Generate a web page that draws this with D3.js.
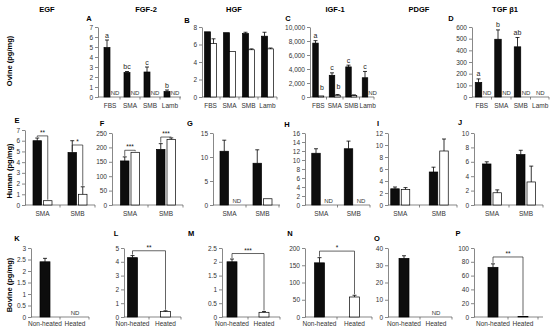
<!DOCTYPE html>
<html>
<head>
<meta charset="utf-8">
<script src="https://cdn.jsdelivr.net/npm/d3@7"></script>
<style>
  body { margin: 0; background: #fff; }
  svg { display: block; font-family: "Liberation Sans", Arial, sans-serif; }
</style>
</head>
<body>
<div id="chart"></div>
<script>
// ---- data ----
const factors = ["EGF", "FGF-2", "HGF", "IGF-1", "PDGF", "TGF \u03b21"];
const species = ["Ovine (pg/mg)", "Human (pg/mg)", "Bovine (pg/mg)"];

const ovineCats = ["FBS", "SMA", "SMB", "Lamb"];
const humanCats = ["SMA", "SMB"];
const bovineCats = ["Non-heated", "Heated"];

// ovine (black = non-heated, white = heated; null = ND)
const fgf2Ovine = [4.95, 2.45, 2.5, 0.55];
const fgf2OvineErr = [0.75, 0.1, 0.5, 0.15];
const fgf2OvineHeat = [null, null, null, null];
const fgf2OvineHeatErr = [0, 0, 0, 0];
const fgf2OvineSig = ["a", "bc", "c", "b"];

const hgfOvine = [7.45, 7.35, 7.25, 6.95];
const hgfOvineErr = [0.05, 0.05, 0.15, 0.45];
const hgfOvineHeat = [6.1, 5.2, 5.4, 5.5];
const hgfOvineHeatErr = [0.55, 0.05, 0.1, 0.1];

const igf1Ovine = [7700, 3100, 4300, 2750];
const igf1OvineErr = [350, 350, 250, 900];
const igf1OvineHeat = [150, 250, 200, null];
const igf1OvineHeatErr = [50, 100, 100, 0];
const igf1OvineSig = ["a", "c", "c", "c"];
const igf1OvineHeatSig = ["b", "b", "", ""];

const tgfOvine = [125, 495, 430, null];
const tgfOvineErr = [30, 80, 80, 0];
const tgfOvineHeat = [null, null, null, null];
const tgfOvineHeatErr = [0, 0, 0, 0];
const tgfOvineSig = ["a", "b", "ab", ""];

// human
const egfHuman = [6.0, 4.9];
const egfHumanErr = [0.25, 1.1];
const egfHumanHeat = [0.4, 1.0];
const egfHumanHeatErr = [0, 0.7];
const egfHumanStars = [{ at: 6.45, label: "**" }, { at: 5.6, label: "*" }];

const fgf2Human = [153, 193];
const fgf2HumanErr = [14, 20];
const fgf2HumanHeat = [183, 228];
const fgf2HumanHeatErr = [0, 5];
const fgf2HumanStars = [{ at: 190, label: "***" }, { at: 236, label: "***" }];

const hgfHuman = [11.2, 8.7];
const hgfHumanErr = [2.3, 2.8];
const hgfHumanHeat = [null, 1.3];
const hgfHumanHeatErr = [0, 0];

const igf1Human = [11.5, 12.5];
const igf1HumanErr = [1.0, 1.7];
const igf1HumanHeat = [null, null];
const igf1HumanHeatErr = [0, 0];

const pdgfHuman = [2.7, 5.5];
const pdgfHumanErr = [0.3, 0.8];
const pdgfHumanHeat = [2.6, 9.0];
const pdgfHumanHeatErr = [0.3, 2.0];

const tgfHuman = [5.7, 7.0];
const tgfHumanErr = [0.3, 0.6];
const tgfHumanHeat = [1.7, 3.2];
const tgfHumanHeatErr = [0.4, 2.2];

// bovine: [non-heated, heated]
const egfBovine = [2.4, null];
const egfBovineErr = [0.15, 0];
const fgf2Bovine = [4.3, 0.4];
const fgf2BovineErr = [0.15, 0.05];
const hgfBovine = [2.0, 0.17];
const hgfBovineErr = [0.1, 0.03];
const igf1Bovine = [157, 58];
const igf1BovineErr = [15, 5];
const pdgfBovine = [34, null];
const pdgfBovineErr = [1.5, 0];
const tgfBovine = [72, 0.8];
const tgfBovineErr = [5, 0];
const fgf2BovineStar = { at: 4.8, label: "**" };
const hgfBovineStar = { at: 2.3, label: "***" };
const igf1BovineStar = { at: 191, label: "*" };
const tgfBovineStar = { at: 87, label: "**" };

// ---- layout ----
const W = 550, H = 330;
const rows = [
  { top: 27, bottom: 97, labelY: 108, labelX: 12, labelMid: 61 },
  { top: 133, bottom: 205, labelY: 216, labelX: 12, labelMid: 171 },
  { top: 248, bottom: 317, labelY: 326, labelX: 12, labelMid: 285 }
];
const headerX = [47, 146, 234, 335, 419, 505];

const panels = [
  { id: "A", row: 0, lx: 89, ly: 21, ax: 98, ex: 181, band: [100, 180], max: 7, step: 1, bw: 6, gap: 0,
    cats: ovineCats, a: fgf2Ovine, ae: fgf2OvineErr, b: fgf2OvineHeat, be: fgf2OvineHeatErr, sigA: fgf2OvineSig },
  { id: "B", row: 0, lx: 187, ly: 23, ax: 202, ex: 277, band: [201, 277], max: 8, step: 2, bw: 6, gap: 0,
    cats: ovineCats, a: hgfOvine, ae: hgfOvineErr, b: hgfOvineHeat, be: hgfOvineHeatErr },
  { id: "C", row: 0, lx: 288, ly: 21, ax: 310, ex: 374, band: [310, 376], max: 10000, step: 2000, bw: 5.5, gap: 0, fmt: ",",
    cats: ovineCats, a: igf1Ovine, ae: igf1OvineErr, b: igf1OvineHeat, be: igf1OvineHeatErr, sigA: igf1OvineSig, sigB: igf1OvineHeatSig },
  { id: "D", row: 0, lx: 451, ly: 21, ax: 472, ex: 549, band: [472, 550], max: 600, step: 100, bw: 6.5, gap: 0,
    cats: ovineCats, a: tgfOvine, ae: tgfOvineErr, b: tgfOvineHeat, be: tgfOvineHeatErr, sigA: tgfOvineSig },

  { id: "E", row: 1, top: 130, lx: 17, ly: 123, ax: 25, ex: 95, band: [25, 95], max: 7, step: 1, bw: 8.5, gap: 2,
    cats: humanCats, a: egfHuman, ae: egfHumanErr, b: egfHumanHeat, be: egfHumanHeatErr, stars: egfHumanStars },
  { id: "F", row: 1, lx: 102, ly: 126, ax: 112, ex: 183, band: [112, 184], max: 250, step: 50, bw: 8.5, gap: 2,
    cats: humanCats, a: fgf2Human, ae: fgf2HumanErr, b: fgf2HumanHeat, be: fgf2HumanHeatErr, stars: fgf2HumanStars },
  { id: "G", row: 1, lx: 190, ly: 126, ax: 213, ex: 280, band: [213, 279], max: 15, step: 5, bw: 8.5, gap: 2,
    cats: humanCats, a: hgfHuman, ae: hgfHumanErr, b: hgfHumanHeat, be: hgfHumanHeatErr },
  { id: "H", row: 1, lx: 287, ly: 127, ax: 305, ex: 370, band: [305, 370], max: 16, step: 2, bw: 8.5, gap: 2,
    cats: humanCats, a: igf1Human, ae: igf1HumanErr, b: igf1HumanHeat, be: igf1HumanHeatErr },
  { id: "I", row: 1, lx: 378, ly: 126, ax: 388, ex: 457, band: [381, 458], max: 12, step: 2, bw: 8.5, gap: 2,
    cats: humanCats, a: pdgfHuman, ae: pdgfHumanErr, b: pdgfHumanHeat, be: pdgfHumanHeatErr },
  { id: "J", row: 1, lx: 460, ly: 125, ax: 474, ex: 543, band: [475, 543], max: 10, step: 2, bw: 8.5, gap: 2,
    cats: humanCats, a: tgfHuman, ae: tgfHumanErr, b: tgfHumanHeat, be: tgfHumanHeatErr },

  { id: "K", row: 2, single: true, lx: 17, ly: 241, ax: 31, ex: 89, band: [30, 90], max: 3, step: 0.5, bw: 10,
    cats: bovineCats, v: egfBovine, ve: egfBovineErr },
  { id: "L", row: 2, single: true, lx: 116, ly: 236, ax: 124, ex: 181, band: [116, 182], max: 5, step: 1, bw: 10,
    cats: bovineCats, v: fgf2Bovine, ve: fgf2BovineErr, star: fgf2BovineStar },
  { id: "M", row: 2, single: true, lx: 191, ly: 236, ax: 222, ex: 280, band: [216, 280], max: 2.5, step: 0.5, bw: 10,
    cats: bovineCats, v: hgfBovine, ve: hgfBovineErr, star: hgfBovineStar },
  { id: "N", row: 2, single: true, lx: 290, ly: 236, ax: 305, ex: 372, band: [302, 372], max: 200, step: 50, bw: 10,
    cats: bovineCats, v: igf1Bovine, ve: igf1BovineErr, star: igf1BovineStar },
  { id: "O", row: 2, single: true, lx: 377, ly: 241, ax: 388, ex: 452, band: [388, 452], max: 40, step: 10, bw: 10,
    cats: bovineCats, v: pdgfBovine, ve: pdgfBovineErr },
  { id: "P", row: 2, single: true, lx: 458, ly: 236, ax: 474, ex: 543, band: [478, 538], max: 100, step: 20, bw: 10,
    cats: bovineCats, v: tgfBovine, ve: tgfBovineErr, star: tgfBovineStar }
];

const svg = d3.select("#chart").append("svg").attr("width", W).attr("height", H);
const axisColor = "#555", textColor = "#333";

// column headers and row labels
svg.selectAll("text.header").data(factors).enter().append("text")
  .attr("class", "header")
  .attr("x", (d, i) => headerX[i]).attr("y", 12)
  .attr("text-anchor", "middle").attr("font-size", 7.5).attr("font-weight", "bold")
  .text(d => d);

svg.selectAll("text.species").data(species).enter().append("text")
  .attr("class", "species")
  .attr("transform", (d, i) => "translate(" + rows[i].labelX + "," + rows[i].labelMid + ") rotate(-90)")
  .attr("text-anchor", "middle").attr("font-size", 7.5).attr("font-weight", "bold")
  .text(d => d);

function errBar(g, cx, y0, y1) {
  if (Math.abs(y0 - y1) < 0.5) return;
  g.append("line").attr("x1", cx).attr("x2", cx).attr("y1", y0).attr("y2", y1)
    .attr("stroke", "#000").attr("stroke-width", 0.8);
  g.append("line").attr("x1", cx - 2).attr("x2", cx + 2).attr("y1", y1).attr("y2", y1)
    .attr("stroke", "#000").attr("stroke-width", 0.8);
}

function bar(g, x0, w, y, v, e, fill) {
  g.append("rect").attr("x", x0).attr("width", w)
    .attr("y", y(v)).attr("height", y(0) - y(v))
    .attr("fill", fill).attr("stroke", "#000").attr("stroke-width", 0.7);
  errBar(g, x0 + w / 2, y(v), y(v + e));
}

function smallText(g, x, y, t, size, color) {
  g.append("text").attr("x", x).attr("y", y).attr("text-anchor", "middle")
    .attr("font-size", size || 6.5).attr("fill", color || textColor).text(t);
}

function bracket(g, x1, x2, yb, top1, top2, label) {
  const leg1 = Math.max(top1, yb), leg2 = Math.max(top2, yb);
  g.append("path")
    .attr("d", "M" + x1 + "," + (leg1 - 1) + "V" + yb + "H" + x2 + "V" + (leg2 - 1))
    .attr("fill", "none").attr("stroke", "#222").attr("stroke-width", 0.7);
  smallText(g, (x1 + x2) / 2, yb - 1, label, 6.5, "#111");
}

function drawPanel(p) {
  const r = rows[p.row];
  const top = p.top || r.top;
  const y = d3.scaleLinear().domain([0, p.max]).range([r.bottom, top]);
  const x = d3.scaleBand().domain(p.cats).range(p.band);
  const g = svg.append("g");

  // panel letter
  g.append("text").attr("x", p.lx).attr("y", p.ly).attr("text-anchor", "middle")
    .attr("font-size", 7.5).attr("font-weight", "bold").text(p.id);

  // y axis
  const yAxis = d3.axisLeft(y)
    .tickValues(d3.range(0, p.max + p.step / 2, p.step))
    .tickSize(3).tickSizeOuter(0).tickPadding(2)
    .tickFormat(d3.format(p.fmt || ""));
  const ya = g.append("g").attr("transform", "translate(" + p.ax + ",0)").call(yAxis);
  ya.select(".domain").attr("stroke", axisColor).attr("stroke-width", 0.7);
  ya.selectAll(".tick line").attr("stroke", axisColor).attr("stroke-width", 0.7);
  ya.selectAll(".tick text").attr("font-size", 6.5).attr("fill", textColor)
    .attr("font-family", "Liberation Sans, Arial, sans-serif");

  // x axis
  g.append("line").attr("x1", p.ax).attr("x2", p.ex).attr("y1", r.bottom).attr("y2", r.bottom)
    .attr("stroke", axisColor).attr("stroke-width", 0.7);
  for (let i = 1; i <= p.cats.length; i++) {
    const tx = Math.min(p.band[0] + i * x.step(), p.ex);
    g.append("line").attr("x1", tx).attr("x2", tx).attr("y1", r.bottom).attr("y2", r.bottom + 2.5)
      .attr("stroke", axisColor).attr("stroke-width", 0.7);
  }
  p.cats.forEach(c => smallText(g, x(c) + x.bandwidth() / 2, r.labelY, c, 6.5));

  if (p.single) {
    const cx = p.cats.map(c => x(c) + x.bandwidth() / 2);
    const tops = [];
    p.v.forEach((v, i) => {
      if (v === null) {
        smallText(g, cx[i], r.bottom - 2.5, "ND", 6);
        tops.push(r.bottom);
        return;
      }
      bar(g, cx[i] - p.bw / 2, p.bw, y, v, p.ve[i], i === 0 ? "#0d0d0d" : "#fff");
      tops.push(y(v + p.ve[i]));
    });
    if (p.star) bracket(g, cx[0], cx[1], y(p.star.at), tops[0], tops[1], p.star.label);
    return;
  }

  p.cats.forEach((c, i) => {
    const cx = x(c) + x.bandwidth() / 2;
    const xa = cx - p.gap / 2 - p.bw, xb = cx + p.gap / 2;
    const va = p.a[i], vb = p.b[i];
    if (va === null && vb === null) {
      smallText(g, cx, r.bottom - 2.5, "ND", 6);
      return;
    }
    if (va === null) smallText(g, xa + p.bw / 2, r.bottom - 2.5, "ND", 6);
    else {
      bar(g, xa, p.bw, y, va, p.ae[i], "#0d0d0d");
      if (p.sigA && p.sigA[i]) smallText(g, xa + p.bw / 2, y(va + p.ae[i]) - 2.5, p.sigA[i], 7, "#222");
    }
    if (vb === null) smallText(g, xb + p.bw / 2 + 2, r.bottom - 2.5, "ND", 6);
    else {
      bar(g, xb, p.bw, y, vb, p.be[i], "#fff");
      if (p.sigB && p.sigB[i]) smallText(g, xb + p.bw / 2 + 1, y(vb + p.be[i]) - 6, p.sigB[i], 7, "#222");
    }
    if (p.stars && p.stars[i] && va !== null && vb !== null) {
      const s = p.stars[i];
      const yb = y(s.at);
      let t1 = y(va + p.ae[i]);
      if (t1 < yb) t1 = y(va);
      bracket(g, xa + p.bw / 2, xb + p.bw / 2, yb, t1, y(vb + p.be[i]), s.label);
    }
  });
}

panels.forEach(drawPanel);
</script>
</body>
</html>
